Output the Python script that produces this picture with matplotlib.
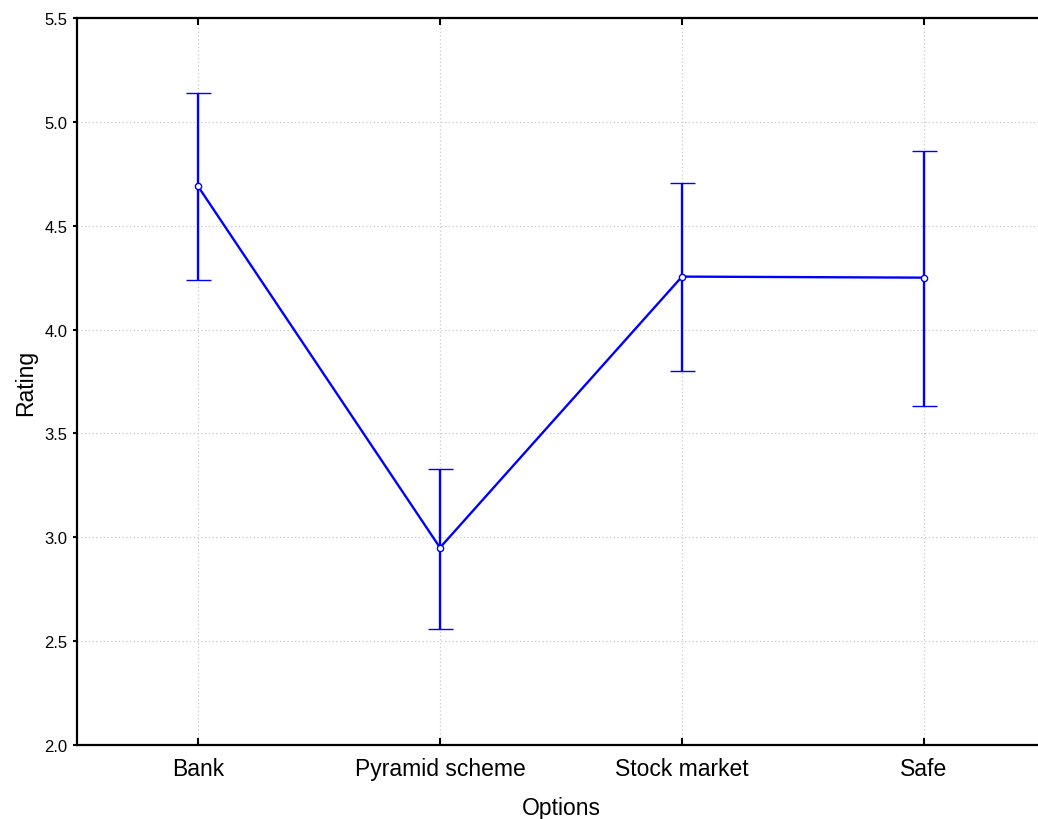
import numpy as np
import matplotlib.pyplot as plt

plt.rcParams['font.family'] = ['Liberation Sans', 'DejaVu Sans']

options = ["Bank", "Pyramid scheme", "Stock market", "Safe"]
means = [4.69, 2.95, 4.255, 4.25]
upper = [5.14, 3.33, 4.705, 4.86]
lower = [4.24, 2.56, 3.80, 3.63]

means = np.array(means)
err = [means - np.array(lower), np.array(upper) - means]
x = np.arange(len(options))

fig = plt.figure(figsize=(10.38, 8.2), dpi=100)
ax = fig.add_axes([77/1038, 1-746/820, (1045-77)/1038, (746-19)/820])

ax.errorbar(x, means, yerr=err, color='#0000ff', lw=1.7, capsize=9, capthick=1.7,
            marker='o', markersize=4.5, markerfacecolor='white', markeredgecolor='#0000ff',
            markeredgewidth=1, zorder=3)

ax.set_xlim(-0.5, 3.5)
ax.set_ylim(2.0, 5.5)
ax.set_yticks(np.arange(2.0, 5.51, 0.5))
ax.set_yticklabels([f"{v:.1f}" for v in np.arange(2.0, 5.51, 0.5)])
ax.set_xticks(x)
ax.set_xticklabels(options)
ax.grid(True, color='#c8c8c8', linestyle=(0, (1, 2)), lw=0.9)
ax.set_axisbelow(True)

for s in ['left', 'bottom', 'top']:
    ax.spines[s].set_linewidth(1.6)
ax.spines['right'].set_visible(False)
ax.tick_params(axis='x', direction='in', length=5, width=1.5, top=True, labelsize=16.5, pad=9)
ax.tick_params(axis='y', direction='out', length=3, width=1.5, labelsize=12, pad=4)

ax.set_xlabel("Options", fontsize=16.5, labelpad=11)
ax.set_ylabel("Rating", fontsize=16.5, labelpad=5)

fig.savefig("out.png", dpi=100)
